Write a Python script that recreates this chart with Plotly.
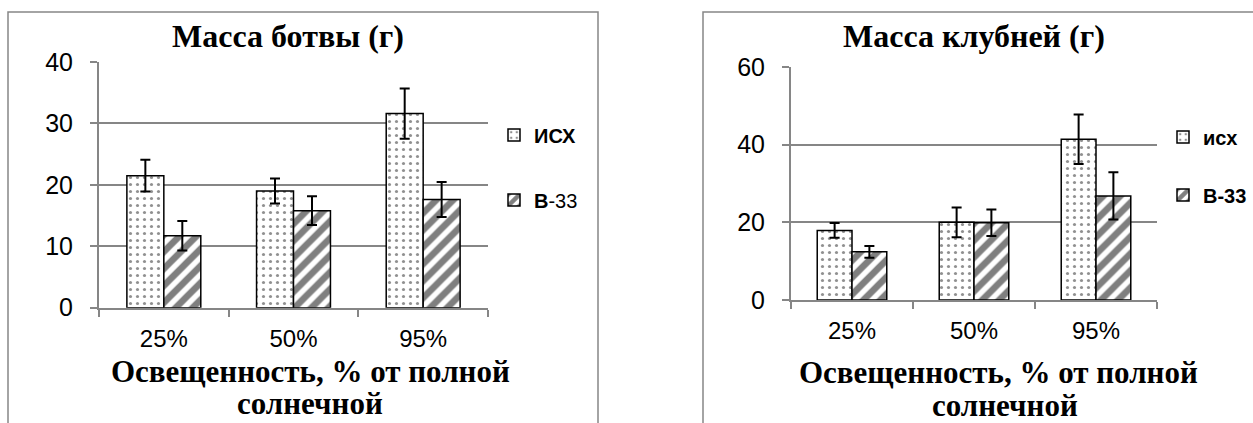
import plotly.graph_objects as go

categories = ["25%", "50%", "95%"]

# Left chart: Масса ботвы (г)
left_isx = [21.5, 19.0, 31.6]
left_isx_err = [2.6, 2.05, 4.1]
left_v33 = [11.7, 15.8, 17.6]
left_v33_err = [2.4, 2.35, 2.85]

# Right chart: Масса клубней (г)
right_isx = [17.9, 20.0, 41.4]
right_isx_err = [1.9, 3.85, 6.4]
right_v33 = [12.4, 19.9, 26.8]
right_v33_err = [1.5, 3.4, 6.1]

left_ticks = [0, 10, 20, 30, 40]
right_ticks = [0, 20, 40, 60]

W, H = 1253, 423
GRAY = "#868686"

def px(x):
    return x / W

def py(y):
    return 1 - y / H

dots = dict(shape=".", fgcolor="#222222", bgcolor="white", size=7, solidity=0.16)
stripes = dict(shape="/", fgcolor="black", bgcolor="white", size=12, solidity=0.55)
outline = dict(color="black", width=1.5)

def err(a):
    return dict(type="data", array=a, color="black", thickness=2, width=5)

fig = go.Figure()
fig.add_trace(go.Bar(x=categories, y=left_isx, name="<b>ИСХ</b>", error_y=err(left_isx_err),
                     marker=dict(color="white", line=outline, pattern=dots),
                     xaxis="x", yaxis="y", legend="legend"))
fig.add_trace(go.Bar(x=categories, y=left_v33, name="<b>В</b>-33", error_y=err(left_v33_err),
                     marker=dict(color="white", line=outline, pattern=stripes),
                     xaxis="x", yaxis="y", legend="legend2"))
fig.add_trace(go.Bar(x=categories, y=right_isx, name="<b>исх</b>", error_y=err(right_isx_err),
                     marker=dict(color="white", line=outline, pattern=dots),
                     xaxis="x2", yaxis="y2", legend="legend3"))
fig.add_trace(go.Bar(x=categories, y=right_v33, name="<b>В-33</b>", error_y=err(right_v33_err),
                     marker=dict(color="white", line=outline, pattern=stripes),
                     xaxis="x2", yaxis="y2", legend="legend4"))

ytickfont = dict(family="Liberation Sans, Arial, sans-serif", size=25, color="black")
xtickfont = dict(family="Liberation Sans, Arial, sans-serif", size=24, color="black")

def xax(domain, anchor):
    return dict(domain=domain, anchor=anchor, type="category", showline=True, linecolor=GRAY,
                linewidth=2, ticks="outside", tickson="boundaries", ticklen=7, tickwidth=2,
                tickcolor=GRAY, tickfont=xtickfont, showgrid=False, ticklabelstandoff=8,
                automargin=False, fixedrange=True)

def yax(domain, anchor, rng, tv):
    return dict(domain=domain, anchor=anchor, range=rng, tickvals=tv, showline=True,
                linecolor=GRAY, linewidth=2, showgrid=True, gridcolor=GRAY, gridwidth=2,
                ticks="outside", ticklen=7, tickwidth=2, tickcolor=GRAY, zeroline=False,
                tickfont=ytickfont, ticklabelstandoff=12, automargin=False, fixedrange=True)

legfont_l = dict(family="Liberation Sans, Arial, sans-serif", size=20, color="black")

def leg(xc, yc):
    return dict(x=px(xc - 20), y=py(yc), xref="container", yref="container",
                xanchor="left", yanchor="middle",
                font=legfont_l, bgcolor="rgba(0,0,0,0)", borderwidth=0)

title_font = dict(family="Liberation Serif, Times New Roman, serif", size=32, color="black")
axt_font = dict(family="Liberation Serif, Times New Roman, serif", size=31, color="black")

annotations = [
    dict(text="<b>Масса ботвы (г)</b>", x=px(288), y=py(36), xref="paper", yref="paper",
         showarrow=False, font=title_font, xanchor="center", yanchor="middle"),
    dict(text="<b>Масса клубней (г)</b>", x=px(974), y=py(36), xref="paper", yref="paper",
         showarrow=False, font=title_font, xanchor="center", yanchor="middle"),
    dict(text="<b>Освещенность, % от полной</b>", x=px(310), y=py(371), xref="paper", yref="paper",
         showarrow=False, font=axt_font, xanchor="center", yanchor="middle"),
    dict(text="<b>солнечной</b>", x=px(310), y=py(403), xref="paper", yref="paper",
         showarrow=False, font=axt_font, xanchor="center", yanchor="middle"),
    dict(text="<b>Освещенность, % от полной</b>", x=px(998), y=py(372), xref="paper", yref="paper",
         showarrow=False, font=axt_font, xanchor="center", yanchor="middle"),
    dict(text="<b>солнечной</b>", x=px(1005), y=py(405), xref="paper", yref="paper",
         showarrow=False, font=axt_font, xanchor="center", yanchor="middle"),
]

shapes = [
    dict(type="rect", xref="paper", yref="paper", x0=px(8), x1=px(598), y0=-0.2, y1=py(12),
         line=dict(color=GRAY, width=1.5), layer="below"),
    dict(type="rect", xref="paper", yref="paper", x0=px(703), x1=1.2, y0=-0.2, y1=py(12),
         line=dict(color=GRAY, width=1.5), layer="below"),
]

fig.update_layout(
    width=W, height=H, margin=dict(l=0, r=0, t=0, b=0, autoexpand=False),
    paper_bgcolor="white", plot_bgcolor="white",
    barmode="group", bargap=0.43, bargroupgap=0,
    xaxis=xax([px(99), px(488)], "y"),
    yaxis=yax([py(307.7), py(62)], "x", [0, 40], left_ticks),
    xaxis2=xax([px(791), px(1157)], "y2"),
    yaxis2=yax([py(300), py(67)], "x2", [0, 60], right_ticks),
    legend=leg(514, 135),
    legend2=leg(514, 200),
    legend3=leg(1183, 137),
    legend4=leg(1183, 195),
    annotations=annotations,
    shapes=shapes,
    showlegend=True,
)

fig.write_html(
    "out.html",
    config={"displayModeBar": False},
    post_script="document.body.style.margin='0px';document.body.style.overflow='hidden';",
)
